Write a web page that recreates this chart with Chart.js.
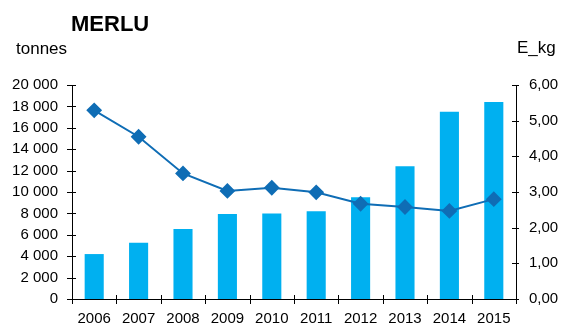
<!DOCTYPE html>
<html>
<head>
<meta charset="utf-8">
<script src="https://cdn.jsdelivr.net/npm/chart.js@4"></script>
<style>
  html, body { margin: 0; padding: 0; background: #fff; }
  #wrap { position: relative; width: 563px; height: 324px; font-family: "Liberation Sans", Arial, sans-serif; color: #000; }
  canvas { position: absolute; left: 0; top: 0; }
  .lbl { position: absolute; white-space: nowrap; line-height: 1; }
  #title { left: 71px; top: 13px; font-size: 22px; font-weight: bold; }
  #unitL { left: 16px; top: 40px; font-size: 17px; }
  #unitR { left: 517px; top: 39px; font-size: 17px; }
</style>
</head>
<body>
<div id="wrap">
  <canvas id="c" width="563" height="324"></canvas>
  <div class="lbl" id="title">MERLU</div>
  <div class="lbl" id="unitL">tonnes</div>
  <div class="lbl" id="unitR">E_kg</div>
</div>
<script>
// Years shown on the category axis
const years = ['2006', '2007', '2008', '2009', '2010', '2011', '2012', '2013', '2014', '2015'];
// Landings in tonnes (bars, left axis)
const tonnes = [4200, 5250, 6550, 7950, 8000, 8200, 9500, 12400, 17500, 18400];
// Average price in euros per kg (line, right axis)
const prixKg = [5.29, 4.55, 3.52, 3.03, 3.12, 2.99, 2.67, 2.58, 2.47, 2.80];
// Axis tick ranges
const leftTicks = { min: 0, max: 20000, step: 2000 };
const rightTicks = { min: 0, max: 6, step: 1 };

const fmtTonnes = v => String(Math.round(v)).replace(/\B(?=(\d{3})+(?!\d))/g, ' ');
const fmtEuro = v => Number(v).toFixed(2).replace('.', ',');

// Short tick marks that cross each axis line
const crossTicks = {
  id: 'crossTicks',
  afterDraw(chart) {
    const ctx = chart.ctx;
    const a = chart.chartArea;
    ctx.save();
    ctx.strokeStyle = '#000';
    ctx.lineWidth = 1;
    ctx.beginPath();
    const yL = chart.scales.y;
    yL.ticks.forEach((t, i) => {
      const p = Math.round(yL.getPixelForTick(i)) + 0.5;
      ctx.moveTo(a.left - 5, p); ctx.lineTo(a.left + 4, p);
    });
    const yR = chart.scales.y1;
    yR.ticks.forEach((t, i) => {
      const p = Math.round(yR.getPixelForTick(i)) + 0.5;
      ctx.moveTo(a.right - 4, p); ctx.lineTo(a.right + 3, p);
    });
    const x = chart.scales.x;
    const n = x.ticks.length;
    for (let i = 0; i <= n; i++) {
      const p = Math.round(x.getPixelForValue(i - 0.5)) + 0.5;
      ctx.moveTo(p, a.bottom - 4); ctx.lineTo(p, a.bottom + 5);
    }
    ctx.stroke();
    ctx.restore();
  }
};

const font = { family: '"Liberation Sans", Arial, sans-serif', size: 15 };

new Chart(document.getElementById('c'), {
  data: {
    labels: years,
    datasets: [
      {
        type: 'line',
        label: 'E_kg',
        data: prixKg,
        yAxisID: 'y1',
        borderColor: '#0F6DB5',
        backgroundColor: '#0F6DB5',
        borderWidth: 2,
        pointStyle: 'rectRot',
        pointRadius: 6.5,
        pointHoverRadius: 6.5,
        tension: 0,
        order: 0
      },
      {
        type: 'bar',
        label: 'tonnes',
        data: tonnes,
        yAxisID: 'y',
        backgroundColor: '#00B0F0',
        barPercentage: 0.43,
        categoryPercentage: 1,
        order: 1
      }
    ]
  },
  options: {
    responsive: false,
    animation: false,
    events: [],
    layout: { padding: { top: 85, left: 0, right: 0, bottom: 0 } },
    plugins: { legend: { display: false }, tooltip: { enabled: false }, title: { display: false } },
    scales: {
      x: {
        offset: true,
        grid: { display: false, drawTicks: false },
        border: { display: true, color: '#000', width: 1 },
        ticks: { color: '#000', font: font, padding: 11, maxRotation: 0, autoSkip: false },
        afterFit(s) { s.height = 25; }
      },
      y: {
        position: 'left',
        min: leftTicks.min, max: leftTicks.max,
        grid: { display: false, drawTicks: false },
        border: { display: true, color: '#000', width: 1 },
        ticks: { stepSize: leftTicks.step, color: '#000', font: font, padding: 14, callback: fmtTonnes },
        afterFit(s) { s.width = 72; }
      },
      y1: {
        position: 'right',
        min: rightTicks.min, max: rightTicks.max,
        grid: { display: false, drawTicks: false },
        border: { display: true, color: '#000', width: 1 },
        ticks: { stepSize: rightTicks.step, color: '#000', font: font, padding: 13, callback: fmtEuro },
        afterFit(s) { s.width = 47; }
      }
    }
  },
  plugins: [crossTicks]
});
</script>
</body>
</html>
